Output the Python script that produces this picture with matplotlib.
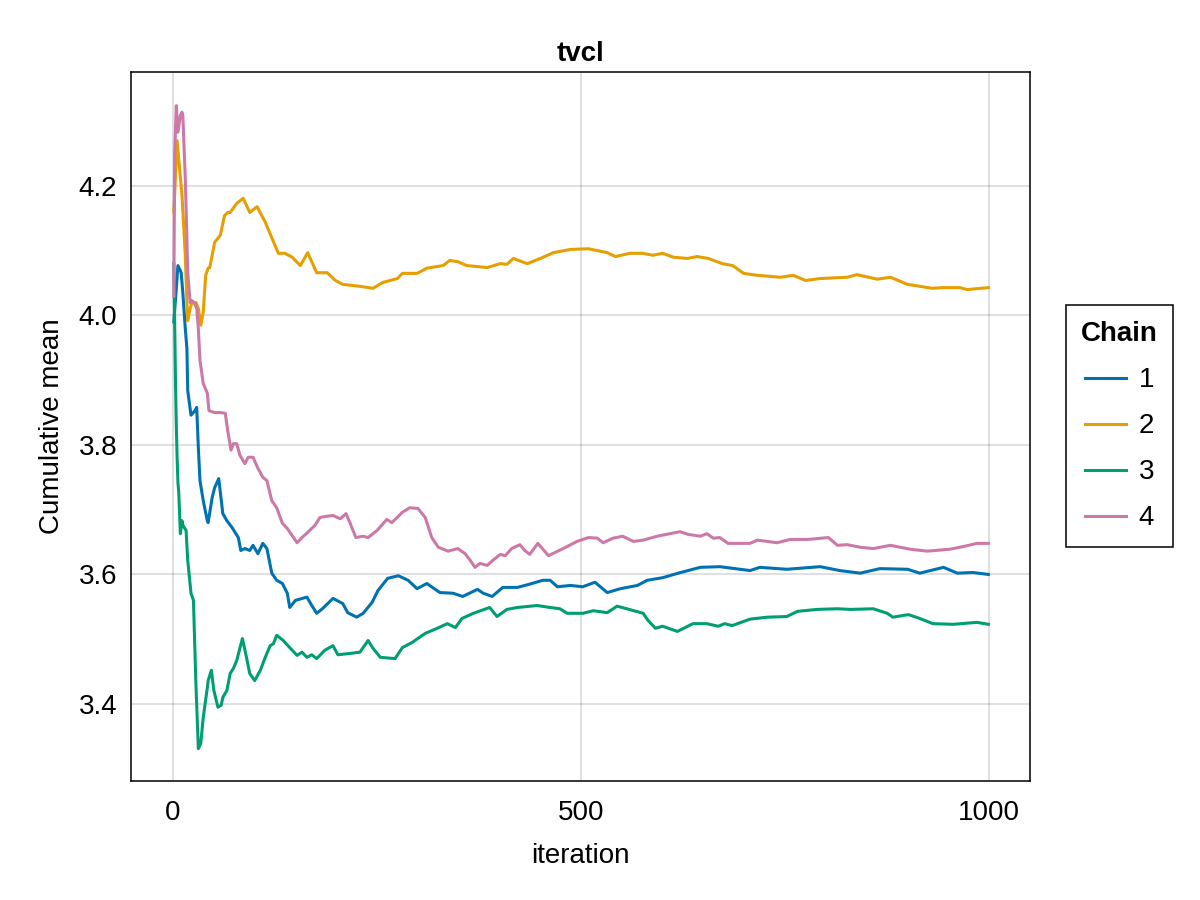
import matplotlib
matplotlib.use("Agg")
import matplotlib.pyplot as plt

plt.rcParams['font.family'] = ['Liberation Sans', 'DejaVu Sans']

# ---- data ----
chain1_iter = [1, 6, 10, 12, 15, 17, 18, 22, 27, 29, 31, 33, 37, 42, 43, 48, 51, 56, 61, 66, 72, 80, 83, 88, 94, 98, 104, 110, 115, 121, 127, 134, 140, 143, 150, 164, 170, 176, 183, 196, 208, 214, 225, 233, 244, 251, 263, 276, 288, 299, 311, 327, 343, 355, 373, 380, 391, 404, 422, 437, 453, 462, 471, 487, 502, 517, 532, 548, 569, 581, 600, 619, 646, 670, 707, 719, 752, 793, 817, 842, 866, 900, 915, 944, 961, 980, 999]
chain1_val = [3.99, 4.077, 4.066, 4.035, 3.980, 3.949, 3.884, 3.846, 3.853, 3.858, 3.796, 3.745, 3.714, 3.683, 3.680, 3.719, 3.734, 3.748, 3.694, 3.683, 3.673, 3.657, 3.637, 3.640, 3.637, 3.645, 3.632, 3.648, 3.640, 3.602, 3.591, 3.586, 3.571, 3.549, 3.560, 3.565, 3.552, 3.540, 3.547, 3.563, 3.555, 3.541, 3.534, 3.540, 3.557, 3.575, 3.594, 3.598, 3.591, 3.578, 3.586, 3.572, 3.571, 3.566, 3.577, 3.571, 3.566, 3.580, 3.580, 3.585, 3.591, 3.591, 3.581, 3.583, 3.581, 3.588, 3.572, 3.578, 3.583, 3.591, 3.595, 3.602, 3.611, 3.612, 3.606, 3.611, 3.608, 3.612, 3.606, 3.602, 3.609, 3.608, 3.602, 3.611, 3.602, 3.603, 3.600]

chain2_iter = [1, 5, 11, 15, 17, 18, 21, 23, 28, 31, 34, 37, 40, 43, 45, 51, 58, 63, 67, 70, 78, 86, 94, 103, 113, 121, 129, 137, 146, 156, 165, 176, 189, 199, 208, 229, 245, 257, 275, 281, 299, 311, 331, 339, 349, 360, 385, 401, 409, 417, 434, 450, 466, 487, 509, 532, 542, 560, 575, 588, 600, 613, 630, 642, 656, 673, 686, 699, 716, 744, 760, 775, 793, 826, 838, 863, 879, 900, 930, 944, 964, 973, 999]
chain2_val = [4.16, 4.270, 4.185, 4.093, 4.020, 3.992, 4.011, 4.019, 4.020, 4.011, 3.985, 4.005, 4.062, 4.073, 4.074, 4.113, 4.124, 4.154, 4.159, 4.159, 4.173, 4.181, 4.159, 4.168, 4.144, 4.120, 4.096, 4.096, 4.090, 4.077, 4.097, 4.066, 4.066, 4.054, 4.048, 4.045, 4.042, 4.051, 4.057, 4.065, 4.065, 4.073, 4.077, 4.085, 4.083, 4.077, 4.074, 4.080, 4.079, 4.088, 4.080, 4.088, 4.097, 4.102, 4.103, 4.097, 4.091, 4.096, 4.096, 4.093, 4.096, 4.090, 4.088, 4.091, 4.088, 4.080, 4.077, 4.065, 4.062, 4.059, 4.062, 4.054, 4.057, 4.059, 4.063, 4.056, 4.059, 4.048, 4.042, 4.043, 4.043, 4.040, 4.043]

chain3_iter = [1, 3, 4, 5, 6, 7, 9, 11, 12, 16, 18, 22, 25, 28, 31, 34, 37, 42, 43, 47, 50, 55, 59, 61, 66, 70, 74, 78, 85, 89, 94, 100, 107, 113, 119, 123, 127, 135, 143, 152, 158, 164, 170, 176, 186, 196, 202, 217, 229, 239, 245, 254, 272, 281, 293, 309, 324, 336, 346, 354, 368, 388, 397, 409, 422, 446, 462, 474, 483, 502, 515, 532, 544, 556, 576, 582, 591, 600, 618, 637, 654, 668, 676, 685, 707, 728, 752, 765, 789, 814, 830, 858, 875, 882, 901, 915, 931, 956, 985, 999]
chain3_val = [4.08, 3.90, 3.83, 3.781, 3.742, 3.727, 3.663, 3.683, 3.676, 3.668, 3.622, 3.571, 3.560, 3.432, 3.331, 3.339, 3.379, 3.425, 3.436, 3.452, 3.421, 3.395, 3.398, 3.410, 3.421, 3.447, 3.455, 3.467, 3.501, 3.478, 3.447, 3.436, 3.452, 3.472, 3.490, 3.493, 3.506, 3.498, 3.487, 3.475, 3.480, 3.472, 3.476, 3.470, 3.483, 3.490, 3.476, 3.478, 3.480, 3.498, 3.486, 3.472, 3.470, 3.487, 3.495, 3.509, 3.517, 3.524, 3.518, 3.532, 3.540, 3.549, 3.535, 3.546, 3.549, 3.552, 3.549, 3.547, 3.540, 3.540, 3.544, 3.541, 3.551, 3.547, 3.540, 3.529, 3.517, 3.520, 3.512, 3.524, 3.524, 3.520, 3.524, 3.521, 3.531, 3.534, 3.535, 3.543, 3.546, 3.547, 3.546, 3.547, 3.540, 3.534, 3.538, 3.532, 3.524, 3.523, 3.526, 3.523]

chain4_iter = [1, 2, 4, 6, 9, 11, 12, 15, 17, 18, 21, 23, 26, 29, 31, 33, 37, 42, 44, 51, 58, 64, 67, 71, 74, 78, 82, 88, 92, 98, 104, 110, 115, 121, 127, 134, 140, 146, 152, 158, 165, 174, 180, 189, 196, 205, 212, 217, 224, 233, 239, 250, 262, 268, 281, 290, 300, 309, 317, 325, 337, 349, 358, 364, 370, 376, 385, 392, 401, 407, 415, 425, 431, 437, 447, 460, 478, 495, 509, 520, 527, 539, 551, 564, 576, 593, 621, 631, 646, 654, 662, 670, 680, 707, 716, 740, 756, 777, 803, 814, 826, 842, 858, 879, 891, 903, 924, 952, 968, 985, 999]
chain4_val = [4.03, 4.25, 4.324, 4.283, 4.309, 4.314, 4.309, 4.212, 4.119, 4.066, 4.020, 4.023, 4.020, 4.011, 3.980, 3.931, 3.895, 3.880, 3.853, 3.850, 3.850, 3.849, 3.822, 3.792, 3.802, 3.802, 3.784, 3.771, 3.781, 3.781, 3.764, 3.750, 3.745, 3.714, 3.703, 3.679, 3.671, 3.660, 3.649, 3.657, 3.665, 3.676, 3.688, 3.690, 3.691, 3.686, 3.694, 3.679, 3.657, 3.659, 3.657, 3.668, 3.685, 3.680, 3.696, 3.703, 3.702, 3.688, 3.657, 3.642, 3.636, 3.640, 3.632, 3.622, 3.611, 3.617, 3.614, 3.622, 3.631, 3.629, 3.640, 3.646, 3.637, 3.631, 3.648, 3.629, 3.640, 3.651, 3.657, 3.656, 3.649, 3.656, 3.659, 3.651, 3.653, 3.659, 3.666, 3.662, 3.659, 3.663, 3.656, 3.657, 3.648, 3.648, 3.653, 3.649, 3.654, 3.654, 3.657, 3.645, 3.646, 3.642, 3.640, 3.645, 3.642, 3.639, 3.636, 3.639, 3.643, 3.648, 3.648]

chain_labels = ["1", "2", "3", "4"]
colors = ["#0072B2", "#E69F00", "#009E73", "#CC79A7"]
xticks = [0, 500, 1000]
yticks = [3.4, 3.6, 3.8, 4.0, 4.2]

# ---- figure ----
fig = plt.figure(figsize=(12, 9), dpi=100)
ax = fig.add_axes([131/1200, 1 - 781/900, (1030-131)/1200, (781-72)/900])

series = [(chain1_iter, chain1_val), (chain2_iter, chain2_val),
          (chain3_iter, chain3_val), (chain4_iter, chain4_val)]
handles = []
for (xs, ys), c, lab in zip(series, colors, chain_labels):
    ln, = ax.plot(xs, ys, color=c, lw=2.2, label=lab, solid_joinstyle='round')
    handles.append(ln)

ax.set_xlim(-51.5, 1050)
ax.set_ylim(3.281, 4.376)
ax.set_xticks(xticks)
ax.set_xticklabels([str(t) for t in xticks])
ax.set_yticks(yticks)
ax.set_yticklabels([f"{t:.1f}" for t in yticks])
ax.grid(True, color='black', alpha=0.12, lw=1.5)
ax.set_axisbelow(True)
ax.tick_params(length=0, labelsize=20, pad=10)
ax.tick_params(axis='x', pad=14)
for s in ax.spines.values():
    s.set_linewidth(1.1)
    s.set_color('black')

ax.set_title("tvcl", fontsize=20, fontweight='bold', pad=8)
ax.set_xlabel("iteration", fontsize=20, labelpad=12)
ax.set_ylabel("Cumulative mean", fontsize=20, labelpad=10)

leg = fig.legend(handles=handles, labels=chain_labels, title="Chain",
                 loc='center left', bbox_to_anchor=(1066/1200, 1 - 426/900),
                 borderaxespad=0,
                 fontsize=20, title_fontproperties={'size': 20, 'weight': 'bold'},
                 frameon=True, fancybox=False, framealpha=1, edgecolor='black',
                 handlelength=1.47, handletextpad=0.45, labelspacing=0.72,
                 borderpad=0.55)
leg.get_frame().set_linewidth(1.1)
leg._legend_box.sep = 15

fig.savefig("out.png", dpi=100)
